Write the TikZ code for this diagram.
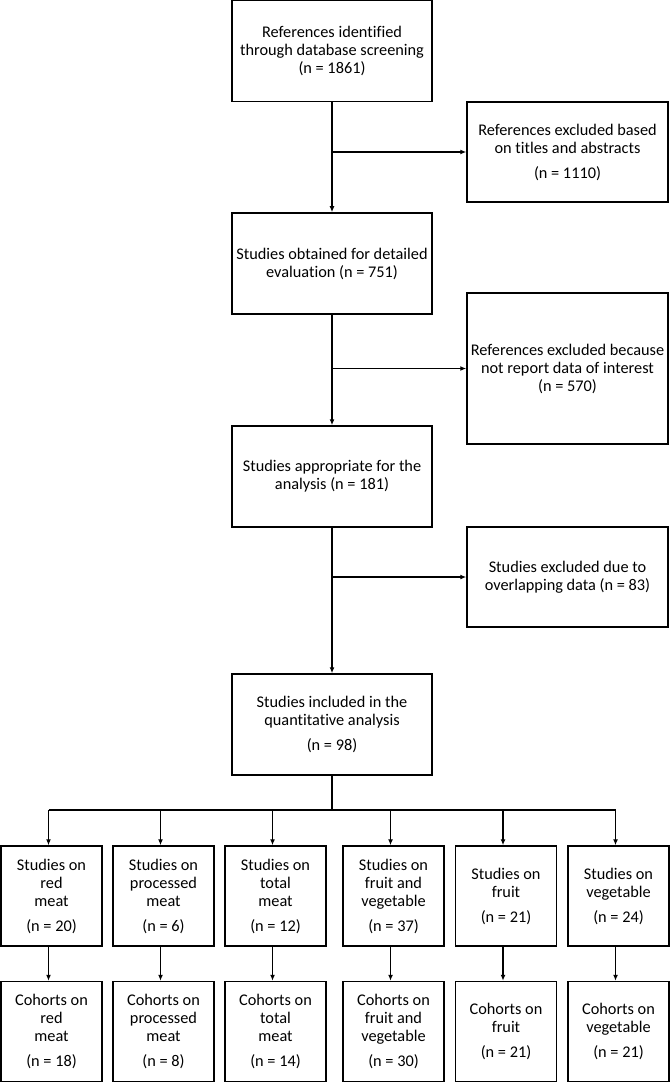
\documentclass[tikz,border=0pt]{standalone}
\usepackage{fontspec}
\setmainfont{Carlito}[Ligatures=NoCommon]
\usetikzlibrary{arrows.meta}
\begin{document}
\begin{tikzpicture}[x=1pt,y=-1pt,
  box/.style={draw=black, line width=1.5pt, inner sep=0pt, align=center,
    font=\fontsize{16.3}{18}\selectfont},
  mainbox/.style={box, minimum width=200pt, minimum height=101pt},
  sidebox/.style={box, minimum width=201pt, minimum height=100pt},
  smallbox/.style={box, minimum width=101pt, minimum height=100pt},
  conn/.style={line width=1.5pt},
  arr/.style={conn, -{Latex[length=6pt,width=5pt]}}]
\useasboundingbox (0,0) rectangle (670,1083);

\node[mainbox] (b1) at (332,51) {References identified\\through database screening\\(n = 1861)};
\node[sidebox] (r1) at (567.5,152) {References excluded based\\on titles and abstracts\\[7pt](n = 1110)};
\node[mainbox] (b2) at (332,263.5) {Studies obtained for detailed\\evaluation (n = 751)};
\node[sidebox, minimum height=151pt] (r2) at (567.5,368.5) {References excluded because\\not report data of interest\\(n = 570)};
\node[mainbox] (b3) at (332,476.5) {Studies appropriate for the\\analysis (n = 181)};
\node[sidebox] (r3) at (567.5,577) {Studies excluded due to\\overlapping data (n = 83)};
\node[mainbox] (b4) at (332,724.5) {Studies included in the\\quantitative analysis\\[7pt](n = 98)};

\node[smallbox] (s1) at (51.5,896) {Studies on\\red\\meat\\[7pt](n = 20)};
\node[smallbox] (s2) at (163.5,896) {Studies on\\processed\\meat\\[7pt](n = 6)};
\node[smallbox] (s3) at (275.5,896) {Studies on\\total\\meat\\[7pt](n = 12)};
\node[smallbox] (s4) at (393.5,896) {Studies on\\fruit and\\vegetable\\[7pt](n = 37)};
\node[smallbox] (s5) at (506,896) {Studies on\\fruit\\[7pt](n = 21)};
\node[smallbox] (s6) at (618.5,896) {Studies on\\vegetable\\[7pt](n = 24)};

\node[smallbox] (c1) at (51.5,1031.5) {Cohorts on\\red\\meat\\[7pt](n = 18)};
\node[smallbox] (c2) at (163.5,1031.5) {Cohorts on\\processed\\meat\\[7pt](n = 8)};
\node[smallbox] (c3) at (275.5,1031.5) {Cohorts on\\total\\meat\\[7pt](n = 14)};
\node[smallbox] (c4) at (393.5,1031.5) {Cohorts on\\fruit and\\vegetable\\[7pt](n = 30)};
\node[smallbox] (c5) at (506,1031.5) {Cohorts on\\fruit\\[7pt](n = 21)};
\node[smallbox] (c6) at (618.5,1031.5) {Cohorts on\\vegetable\\[7pt](n = 21)};

% main flow with side branches
\draw[arr] (b1) -- (b2);
\coordinate (j1) at (b1.south |- r1.west);
\draw[arr] (j1) -- (r1.west);
\draw[arr] (b2) -- (b3);
\coordinate (j2) at (b2.south |- r2.west);
\draw[arr] (j2) -- (r2.west);
\draw[arr] (b3) -- (b4);
\coordinate (j3) at (b3.south |- r3.west);
\draw[arr] (j3) -- (r3.west);

% bus
\coordinate (bus) at (332,810);
\draw[conn] (b4.south) -- (bus);
\draw[conn] ([xshift=-3pt]s1.north |- bus) -- ([xshift=-3pt]s6.north |- bus);
\foreach \i in {1,...,6}{
  \draw[arr] ([xshift=-3pt]s\i.north |- bus) -- ([xshift=-3pt]s\i.north);
  \draw[arr] ([xshift=-3pt]s\i.south) -- ([xshift=-3pt]c\i.north);
}
\end{tikzpicture}
\end{document}
